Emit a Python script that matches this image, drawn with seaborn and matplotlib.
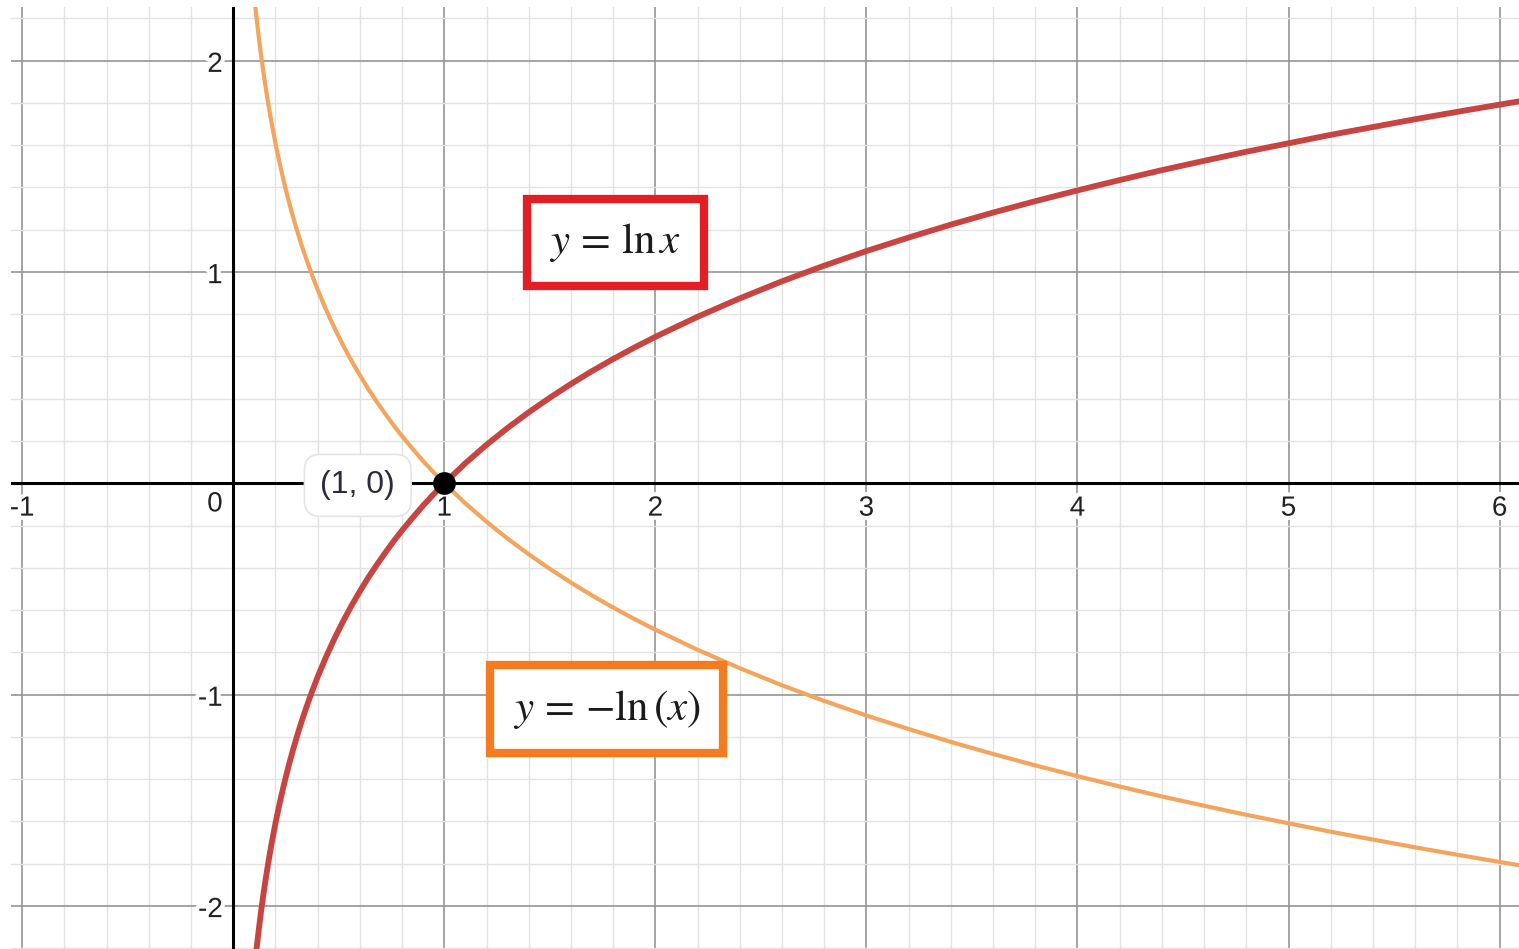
import numpy as np
import pandas as pd
import matplotlib.pyplot as plt
import matplotlib.patheffects as pe
import seaborn as sns

# points
x_vals = [0.10, 0.11, 0.12, 0.13, 0.14, 0.15, 0.16, 0.17, 0.18, 0.19, 0.20,
          0.21, 0.22, 0.23, 0.24, 0.25, 0.26, 0.27, 0.28, 0.29, 0.30,
          0.32, 0.34, 0.36, 0.38, 0.40, 0.44, 0.48, 0.52, 0.56, 0.60,
          0.64, 0.68, 0.72, 0.76, 0.80, 0.85, 0.90, 0.95, 1.00,
          1.10, 1.20, 1.30, 1.40, 1.50, 1.60, 1.70, 1.80, 1.90, 2.00,
          2.20, 2.40, 2.60, 2.80, 3.00, 3.20, 3.40, 3.60, 3.80, 4.00,
          4.20, 4.40, 4.60, 4.80, 5.00, 5.20, 5.40, 5.60, 5.80, 6.00, 6.20]
ln_vals = [-2.303, -2.207, -2.120, -2.040, -1.966, -1.897, -1.833, -1.772, -1.715, -1.661, -1.609,
           -1.561, -1.514, -1.470, -1.427, -1.386, -1.347, -1.309, -1.273, -1.238, -1.204,
           -1.139, -1.079, -1.022, -0.968, -0.916, -0.821, -0.734, -0.654, -0.580, -0.511,
           -0.446, -0.386, -0.329, -0.274, -0.223, -0.163, -0.105, -0.051, 0.000,
           0.095, 0.182, 0.262, 0.336, 0.405, 0.470, 0.531, 0.588, 0.642, 0.693,
           0.788, 0.875, 0.956, 1.030, 1.099, 1.163, 1.224, 1.281, 1.335, 1.386,
           1.435, 1.482, 1.526, 1.569, 1.609, 1.649, 1.686, 1.723, 1.758, 1.792, 1.825]
neg_ln_vals = [2.303, 2.207, 2.120, 2.040, 1.966, 1.897, 1.833, 1.772, 1.715, 1.661, 1.609,
               1.561, 1.514, 1.470, 1.427, 1.386, 1.347, 1.309, 1.273, 1.238, 1.204,
               1.139, 1.079, 1.022, 0.968, 0.916, 0.821, 0.734, 0.654, 0.580, 0.511,
               0.446, 0.386, 0.329, 0.274, 0.223, 0.163, 0.105, 0.051, 0.000,
               -0.095, -0.182, -0.262, -0.336, -0.405, -0.470, -0.531, -0.588, -0.642, -0.693,
               -0.788, -0.875, -0.956, -1.030, -1.099, -1.163, -1.224, -1.281, -1.335, -1.386,
               -1.435, -1.482, -1.526, -1.569, -1.609, -1.649, -1.686, -1.723, -1.758, -1.792, -1.825]

x_ticks = [-1, 1, 2, 3, 4, 5, 6]
y_ticks = [-2, -1, 1, 2]
point_x = [1]
point_y = [0]

df = pd.DataFrame({"x": x_vals, "ln": ln_vals, "neg": neg_ln_vals})

sns.set_style("white")
plt.rcParams['font.family'] = ['Liberation Sans', 'DejaVu Sans']
plt.rcParams['mathtext.fontset'] = 'stix'

fig = plt.figure(figsize=(15.19, 9.49), dpi=100)
ax = fig.add_axes([11 / 1519, 0, 1508 / 1519, 942 / 949])
ax.set_xlim(-1.053, 6.092)
ax.set_ylim(-2.204, 2.254)

# grid
ax.set_xticks(np.arange(-1, 7, 1))
ax.set_yticks(np.arange(-2, 3, 1))
ax.set_xticks(np.arange(-1, 6.2, 0.2), minor=True)
ax.set_yticks(np.arange(-2.2, 2.4, 0.2), minor=True)
ax.grid(which='minor', color='#e2e2e2', lw=1.0, zorder=0)
ax.grid(which='major', color='#959595', lw=1.2, zorder=0)
ax.tick_params(which='both', length=0, labelbottom=False, labelleft=False)
for s in ax.spines.values():
    s.set_visible(False)
ax.axhline(0, color='black', lw=2.2, zorder=1)
ax.axvline(0, color='black', lw=2.2, zorder=1)

# curves
sns.lineplot(data=df, x="x", y="neg", sort=False, estimator=None, color='#f3a55e', lw=3.0, ax=ax, zorder=3)
sns.lineplot(data=df, x="x", y="ln", sort=False, estimator=None, color='#c74440', lw=4.2, ax=ax, zorder=4)
ax.set_xlabel("")
ax.set_ylabel("")

# point
sns.scatterplot(x=point_x, y=point_y, color='black', s=230, edgecolor='black', ax=ax, zorder=6)

# tick labels
halo = [pe.withStroke(linewidth=6, foreground='white')]
for t in x_ticks:
    ax.text(t, -0.12, str(t), ha='center', va='center', fontsize=20, color='#222222',
            path_effects=halo, zorder=2)
for t in y_ticks:
    ax.text(-0.05, t - 0.02, str(t), ha='right', va='center', fontsize=20, color='#222222',
            path_effects=halo, zorder=2)
ax.text(-0.05, -0.10, "0", ha='right', va='center', fontsize=20, color='#222222',
        path_effects=halo, zorder=2)

# point label
ax.text(0.59, -0.01, "(1, 0)", ha='center', va='center', fontsize=23, color='#2b2b3a', zorder=7,
        bbox=dict(boxstyle='round,pad=0.5', fc='white', ec='#e4e4e4', lw=1.2))

# equation boxes
ax.text(1.81, 1.14, r"$y\,=\,\ln x$", ha='center', va='center', fontsize=31, color='#1a1a1a', zorder=7,
        bbox=dict(boxstyle='square,pad=0.52', fc='white', ec='#e31e24', lw=6))
ax.text(1.77, -1.07, r"$y\,=\,{-}\ln\left(x\right)$", ha='center', va='center', fontsize=31,
        color='#1a1a1a', zorder=7,
        bbox=dict(boxstyle='square,pad=0.52', fc='white', ec='#f47b20', lw=6))

fig.savefig("out.png", dpi=100)
